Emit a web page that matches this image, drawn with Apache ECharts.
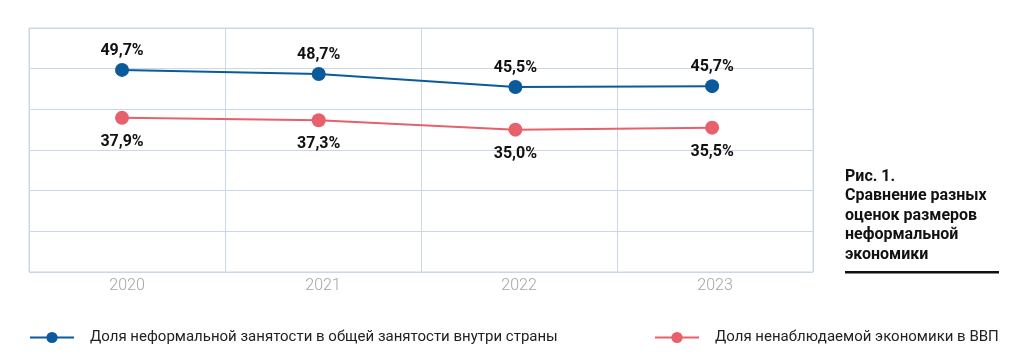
<!DOCTYPE html>
<html><head><meta charset="utf-8">
<script src="https://cdn.jsdelivr.net/npm/echarts@6/dist/echarts.min.js"></script>
<style>html,body{margin:0;padding:0;background:#fff}#c{width:1024px;height:361px}</style>
</head><body><div id="c"></div>
<script>
const categories = ['2020', '2021', '2022', '2023'];
const informalEmployment = [49.7, 48.7, 45.5, 45.7];
const unobservedEconomy = [37.9, 37.3, 35.0, 35.5];
const seriesNames = ['Доля неформальной занятости в общей занятости внутри страны', 'Доля ненаблюдаемой экономики в ВВП'];
const titleLines = ['Рис. 1.', 'Сравнение разных', 'оценок размеров', 'неформальной', 'экономики'];

const BLUE = '#0b5a9c', RED = '#e8606b', GRIDC = '#cad7e6';
const fmt = p => p.value[1].toFixed(1).replace('.', ',') + '%';
const chart = echarts.init(document.getElementById('c'));
chart.setOption({
  animation: false,
  grid: { left: 29, top: 28, right: 211, bottom: 89, show: true, borderColor: GRIDC, borderWidth: 1 },
  xAxis: [{
    type: 'category', data: categories, boundaryGap: true,
    axisLine: { show: false }, axisTick: { show: false },
    splitLine: { show: true, lineStyle: { color: GRIDC, width: 1 } },
    axisLabel: { color: '#a5a5a5', fontSize: 16, fontFamily: 'Roboto', fontWeight: 300, margin: 6 }
  }, {
    type: 'value', show: false, min: -0.473, max: 3.513, splitLine: { show: false }
  }],
  yAxis: {
    type: 'value', min: 0, max: 60, interval: 10,
    axisLine: { show: false }, axisTick: { show: false }, axisLabel: { show: false },
    splitLine: { lineStyle: { color: GRIDC, width: 1 } }
  },
  legend: [
    { data: [seriesNames[0]], left: 24, top: 325, itemWidth: 44, itemHeight: 14, itemGap: 0,
      textStyle: { color: '#222', fontSize: 15, fontFamily: 'Roboto', padding: [0, 0, 0, 11] } },
    { data: [seriesNames[1]], left: 649, top: 325, itemWidth: 44, itemHeight: 14, itemGap: 0,
      textStyle: { color: '#222', fontSize: 15, fontFamily: 'Roboto', padding: [0, 0, 0, 11] } }
  ],
  series: [
    { name: seriesNames[0], type: 'line', xAxisIndex: 1, data: informalEmployment.map((v, i) => [i, v]),
      symbol: 'circle', symbolSize: 14,
      itemStyle: { color: BLUE }, lineStyle: { color: BLUE, width: 2 },
      label: { show: true, position: 'top', distance: 4, formatter: fmt, color: '#111', fontSize: 16, fontWeight: 'bold', fontFamily: 'Roboto' } },
    { name: seriesNames[1], type: 'line', xAxisIndex: 1, data: unobservedEconomy.map((v, i) => [i, v]),
      symbol: 'circle', symbolSize: 14,
      itemStyle: { color: RED }, lineStyle: { color: RED, width: 2 },
      label: { show: true, position: 'bottom', distance: 9, formatter: fmt, color: '#111', fontSize: 16, fontWeight: 'bold', fontFamily: 'Roboto' } }
  ],
  graphic: [
    { type: 'text', left: 845, top: 167, style: { text: titleLines.join('\n'), font: 'bold 16px Roboto', fill: '#111', lineHeight: 19.5 } },
    { type: 'rect', shape: { x: 845, y: 271, width: 154, height: 2.5 }, style: { fill: '#111' } }
  ]
});
</script></body></html>
